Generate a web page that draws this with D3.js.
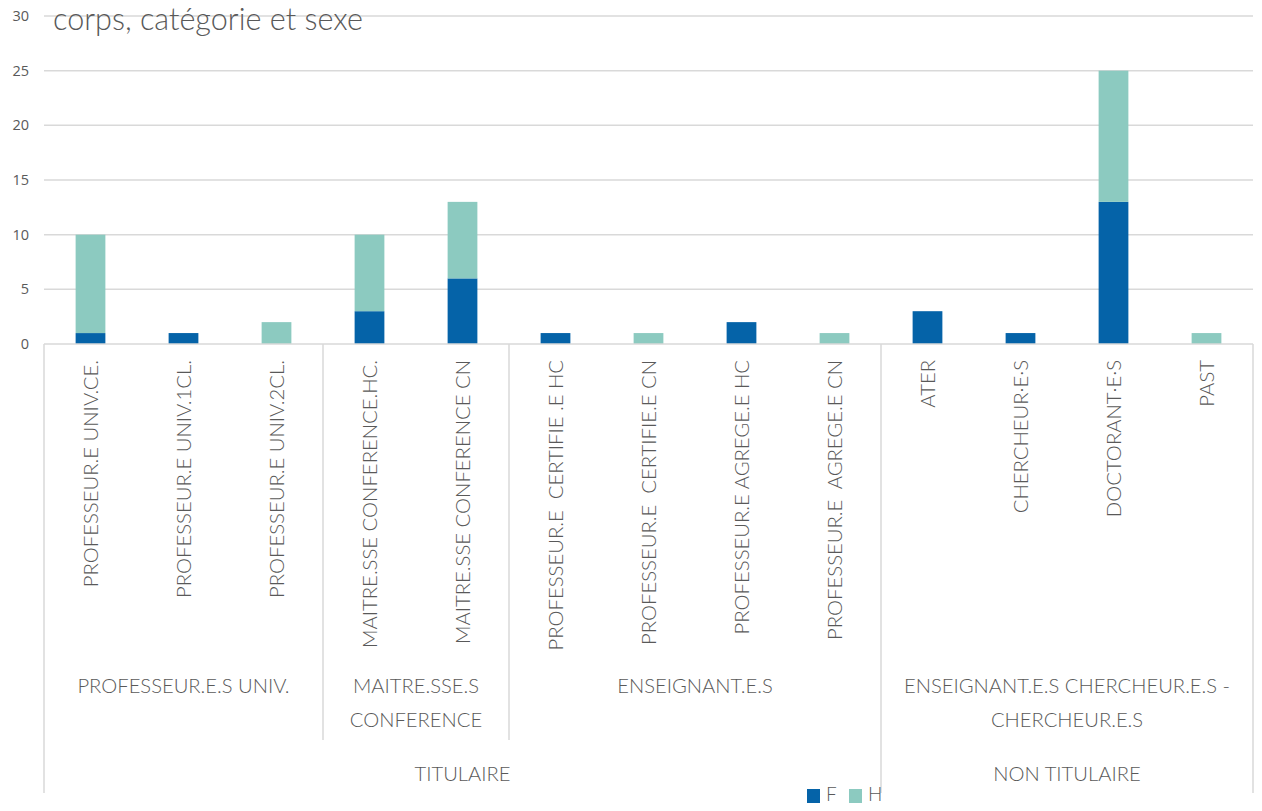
<!DOCTYPE html>
<html><head><meta charset="utf-8">
<script src="https://cdn.jsdelivr.net/npm/d3@7"></script>
<style>
html,body{margin:0;padding:0;background:#fff;}
text{white-space:pre;}
</style>
</head><body>
<svg id="chart" width="1262" height="811"></svg>
<script>
const categories = [
  "PROFESSEUR.E UNIV.CE.", "PROFESSEUR.E UNIV.1CL.", "PROFESSEUR.E UNIV.2CL.",
  "MAITRE.SSE CONFERENCE.HC.", "MAITRE.SSE CONFERENCE CN",
  "PROFESSEUR.E  CERTIFIE .E HC", "PROFESSEUR.E  CERTIFIE.E CN", "PROFESSEUR.E AGREGE.E HC", "PROFESSEUR.E  AGREGE.E CN",
  "ATER", "CHERCHEUR·E·S", "DOCTORANT·E·S", "PAST"
];
const valuesF = [1, 1, 0, 3, 6, 1, 0, 2, 0, 3, 1, 13, 0];
const valuesH = [9, 0, 2, 7, 7, 0, 1, 0, 1, 0, 0, 12, 1];
const seriesNames = ["F", "H"];
const seriesColors = ["#0563a8", "#8ccac0"];
const groupLabels = [["PROFESSEUR.E.S UNIV."], ["MAITRE.SSE.S", "CONFERENCE"], ["ENSEIGNANT.E.S"], ["ENSEIGNANT.E.S CHERCHEUR.E.S -", "CHERCHEUR.E.S"]];
const groupStarts = [0, 3, 5, 9];
const groupEnds = [3, 5, 9, 13];
const statusLabels = ["TITULAIRE", "NON TITULAIRE"];
const statusStarts = [0, 9];
const statusEnds = [9, 13];
const yTicks = [0, 5, 10, 15, 20, 25, 30];
const title = "corps, catégorie et sexe";

const svg = d3.select("#chart");
const plotLeft = 44, plotRight = 1253, plotTop = 16, plotBase = 344;
const textColor = "#595959", gridColor = "#d9d9d9";
const font = "Lato, 'Open Sans', sans-serif";
const weight = 300;

const x = d3.scaleBand().domain(categories).range([plotLeft, plotRight]).paddingInner(0.68).paddingOuter(0.34);
const y = d3.scaleLinear().domain([0, 30]).range([plotBase, plotTop]);
const step = x.step();
const edge = i => plotLeft + step * i;

// gridlines
svg.append("g").selectAll("line").data(yTicks.filter(d => d > 0)).join("line")
  .attr("x1", plotLeft).attr("x2", plotRight).attr("y1", d => y(d)).attr("y2", d => y(d))
  .attr("stroke", gridColor).attr("stroke-width", 1.5);

// y tick labels
svg.append("g").selectAll("text").data(yTicks).join("text")
  .attr("x", 29).attr("y", d => y(d)).attr("dy", "0.35em").attr("text-anchor", "end")
  .attr("font-family", "'Open Sans', sans-serif").attr("font-size", 14.5).attr("fill", textColor)
  .text(d => d);

// stacked bars
const rows = categories.map((c, i) => ({cat: c, F: valuesF[i], H: valuesH[i]}));
const stack = d3.stack().keys(seriesNames)(rows);
svg.append("g").selectAll("g").data(stack).join("g")
  .attr("fill", (d, i) => seriesColors[i])
  .selectAll("rect").data(d => d.filter(p => p[1] - p[0] > 0)).join("rect")
  .attr("x", d => x(d.data.cat)).attr("width", x.bandwidth())
  .attr("y", d => y(d[1])).attr("height", d => y(d[0]) - y(d[1]));

// baseline
svg.append("line").attr("x1", plotLeft).attr("x2", plotRight).attr("y1", plotBase).attr("y2", plotBase)
  .attr("stroke", gridColor).attr("stroke-width", 1.5);

// separators
const sepG = svg.append("g").attr("stroke", gridColor).attr("stroke-width", 1.5);
const fullIdx = [0, ...statusEnds];
const halfIdx = groupEnds.filter(e => !fullIdx.includes(e));
fullIdx.forEach(i => sepG.append("line").attr("x1", edge(i)).attr("x2", edge(i)).attr("y1", plotBase).attr("y2", 793));
halfIdx.forEach(i => sepG.append("line").attr("x1", edge(i)).attr("x2", edge(i)).attr("y1", plotBase).attr("y2", 740));

// rotated category labels
svg.append("g").selectAll("text").data(categories).join("text")
  .attr("transform", d => `translate(${x(d) + x.bandwidth() / 2},360) rotate(-90)`)
  .attr("text-anchor", "end").attr("dy", "0.36em")
  .attr("font-family", font).attr("font-weight", weight).attr("font-size", 20.3).attr("fill", textColor)
  .text(d => d);

// group labels
groupLabels.forEach((lines, gi) => {
  const cx = (edge(groupStarts[gi]) + edge(groupEnds[gi])) / 2;
  lines.forEach((ln, li) => {
    svg.append("text").attr("x", cx).attr("y", 693 + li * 34).attr("text-anchor", "middle")
      .attr("font-family", font).attr("font-weight", weight).attr("font-size", 20.2).attr("fill", textColor).text(ln);
  });
});
statusLabels.forEach((s, si) => {
  const cx = (edge(statusStarts[si]) + edge(statusEnds[si])) / 2;
  svg.append("text").attr("x", cx).attr("y", 781).attr("text-anchor", "middle")
    .attr("font-family", font).attr("font-weight", weight).attr("font-size", 20.2).attr("fill", textColor).text(s);
});

// title
svg.append("text").attr("x", 53).attr("y", 30).attr("font-family", font).attr("font-weight", weight).attr("font-size", 30.6)
  .attr("fill", textColor).text(title);

// legend
const lg = svg.append("g");
seriesNames.forEach((n, i) => {
  const lx = 807 + i * 42;
  lg.append("rect").attr("x", lx).attr("y", 789).attr("width", 13).attr("height", 14).attr("fill", seriesColors[i]);
  lg.append("text").attr("x", lx + 19).attr("y", 801).attr("font-family", font).attr("font-weight", weight).attr("font-size", 19)
    .attr("fill", textColor).text(n);
});
</script>
</body></html>
